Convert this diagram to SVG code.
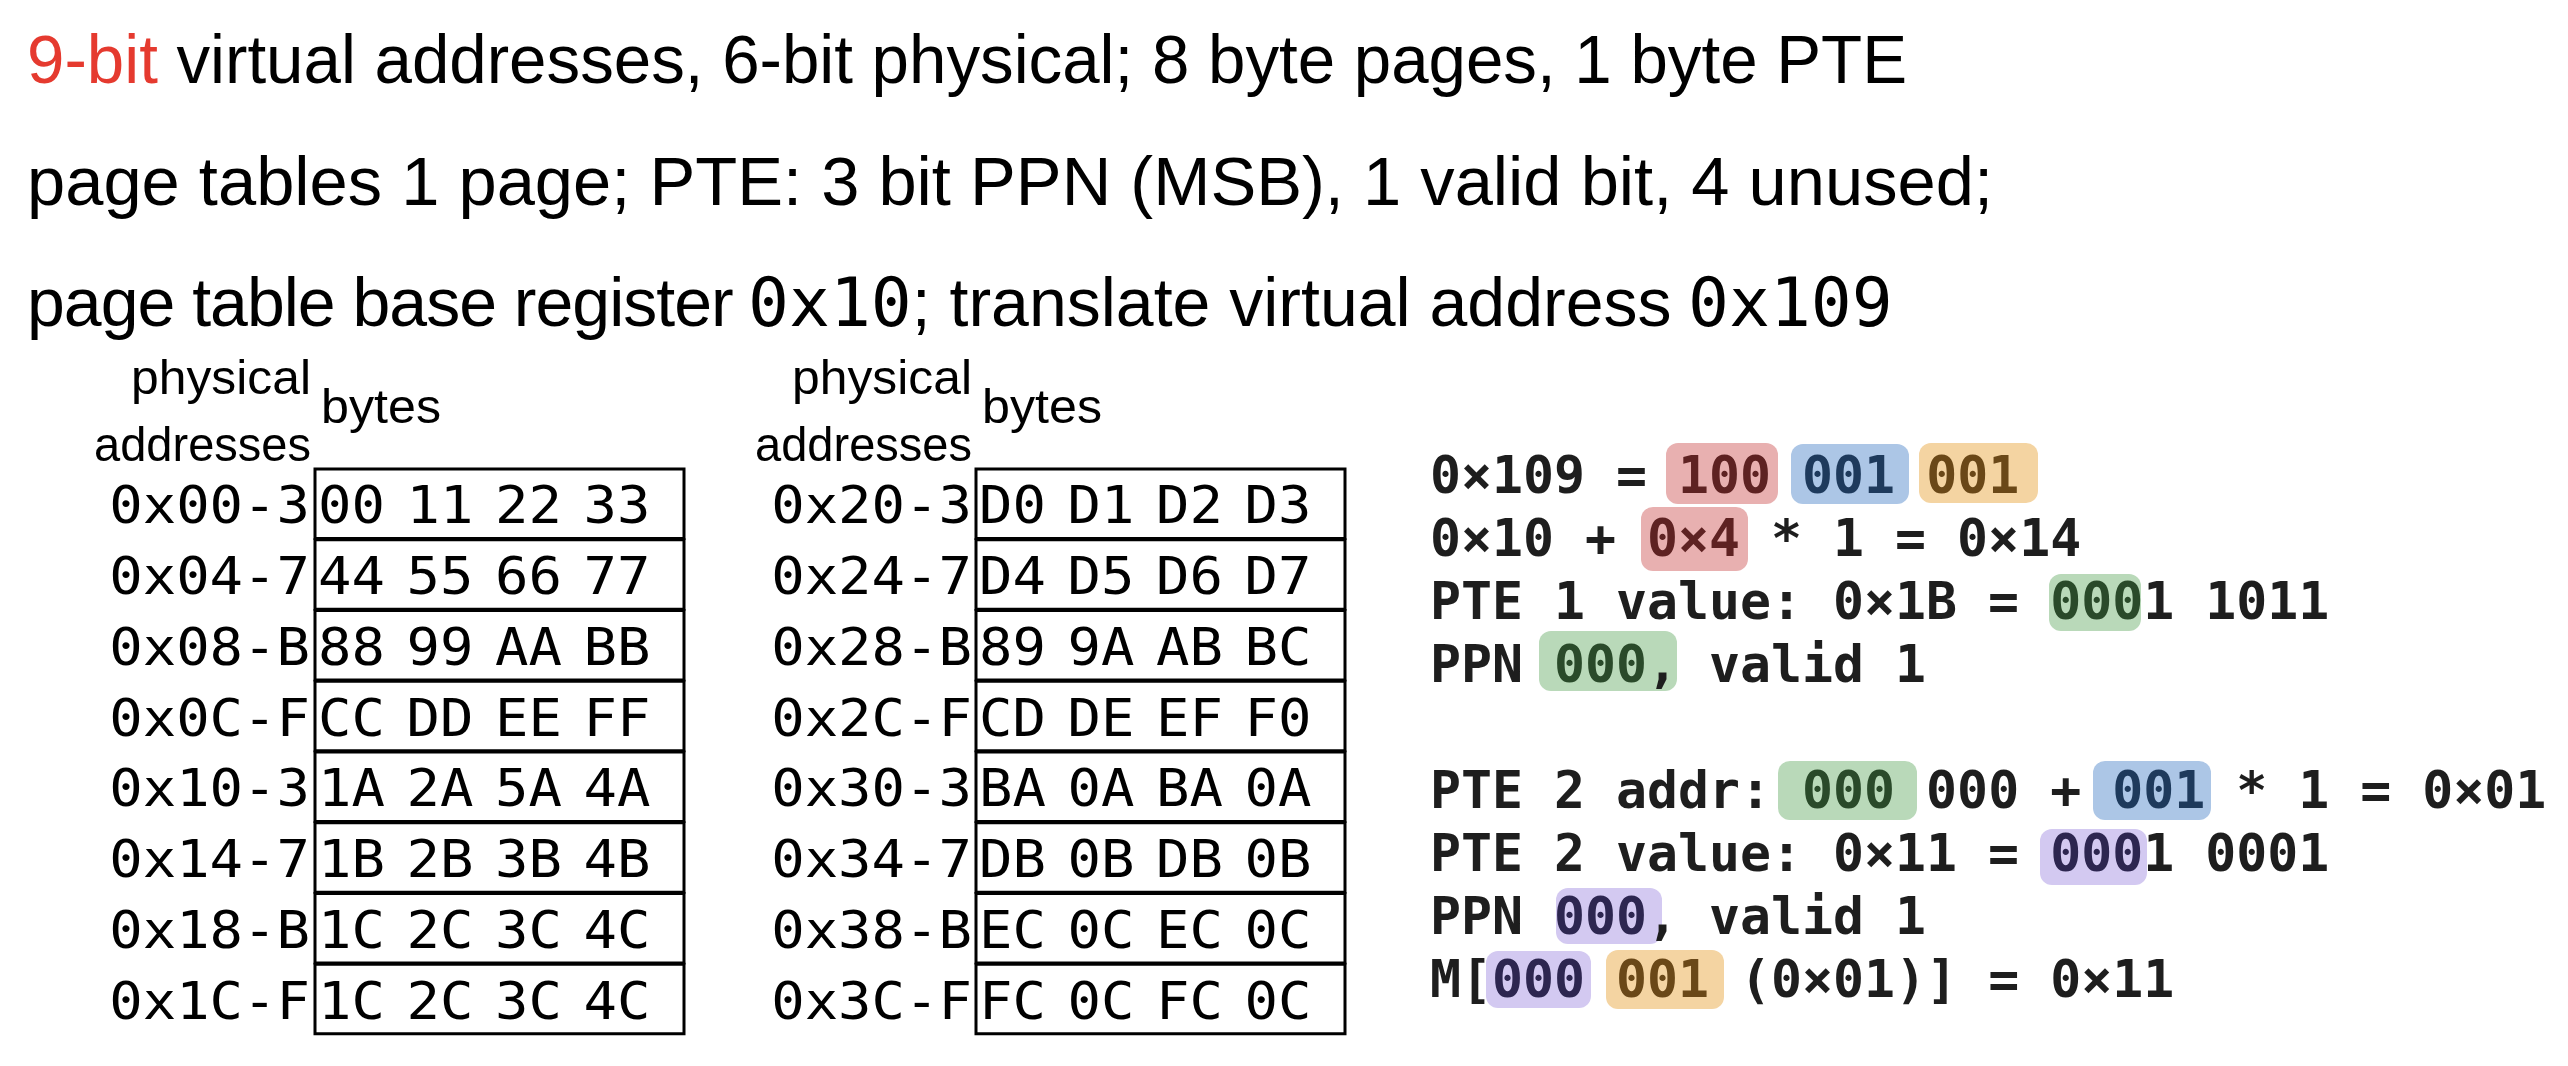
<svg xmlns="http://www.w3.org/2000/svg" width="2568" height="1066" viewBox="0 0 2568 1066">
<style>
.sans{font-family:"Liberation Sans",Arial,sans-serif;fill:#000}
.title{font-size:68px}
.hdr{font-size:49px}
.mono{font-family:"DejaVu Sans Mono","Liberation Mono",monospace}
.cell{font-size:51px;fill:#000}
.row{fill:#fff;stroke:#000;stroke-width:3}
.calc{font-family:"DejaVu Sans Mono","Liberation Mono",monospace;font-size:51.5px;font-weight:bold;fill:#1e1e1e}
.hr{fill:#e8b0b0}.tr{fill:#5e2222}
.hb{fill:#acc6e6}.tb{fill:#1e3a5c}
.ho{fill:#f4d4a2}.to{fill:#6a4818}
.hg{fill:#b9d9b9}.tg{fill:#2a4a2a}
.hp{fill:#d3c9f1}.tp{fill:#2d2650}
</style>
<rect width="2568" height="1066" fill="#fff"/>
<g id="title" class="sans title">
<text x="27" y="83" textLength="1880" lengthAdjust="spacingAndGlyphs"><tspan fill="#e53a2f">9-bit</tspan> virtual addresses, 6-bit physical; 8 byte pages, 1 byte PTE</text>
<text x="27" y="205" textLength="1966" lengthAdjust="spacingAndGlyphs">page tables 1 page; PTE: 3 bit PPN (MSB), 1 valid bit, 4 unused;</text>
<text x="27" y="326"><tspan letter-spacing="-1">page table base register </tspan><tspan x="748" class="mono">0x10</tspan>; translate virtual address <tspan x="1688" class="mono">0x109</tspan></text>
</g>
<g id="connectors"/>
<g id="table1">
<text class="sans hdr" x="311" y="394" text-anchor="end" textLength="180" lengthAdjust="spacingAndGlyphs">physical</text>
<text class="sans hdr" x="311" y="461" text-anchor="end" textLength="217" lengthAdjust="spacingAndGlyphs">addresses</text>
<text class="sans hdr" x="321" y="423" textLength="120" lengthAdjust="spacingAndGlyphs">bytes</text>
<rect class="row" x="315" y="469" width="369" height="69.5"/>
<rect class="row" x="315" y="539.75" width="369" height="69.5"/>
<rect class="row" x="315" y="610.5" width="369" height="69.5"/>
<rect class="row" x="315" y="681.25" width="369" height="69.5"/>
<rect class="row" x="315" y="752" width="369" height="69.5"/>
<rect class="row" x="315" y="822.75" width="369" height="69.5"/>
<rect class="row" x="315" y="893.5" width="369" height="69.5"/>
<rect class="row" x="315" y="964.25" width="369" height="69.5"/>
<g class="mono cell" transform="scale(1.09,1)">
<g text-anchor="end">
<text x="284.4" y="523.5">0x00-3</text>
<text x="284.4" y="594.25">0x04-7</text>
<text x="284.4" y="665">0x08-B</text>
<text x="284.4" y="735.75">0x0C-F</text>
<text x="284.4" y="806.5">0x10-3</text>
<text x="284.4" y="877.25">0x14-7</text>
<text x="284.4" y="948">0x18-B</text>
<text x="284.4" y="1018.75">0x1C-F</text>
</g>
<text y="523.5"><tspan x="291.7">00</tspan> <tspan x="372.9">11</tspan> <tspan x="454.1">22</tspan> <tspan x="535.3">33</tspan></text>
<text y="594.25"><tspan x="291.7">44</tspan> <tspan x="372.9">55</tspan> <tspan x="454.1">66</tspan> <tspan x="535.3">77</tspan></text>
<text y="665"><tspan x="291.7">88</tspan> <tspan x="372.9">99</tspan> <tspan x="454.1">AA</tspan> <tspan x="535.3">BB</tspan></text>
<text y="735.75"><tspan x="291.7">CC</tspan> <tspan x="372.9">DD</tspan> <tspan x="454.1">EE</tspan> <tspan x="535.3">FF</tspan></text>
<text y="806.5"><tspan x="291.7">1A</tspan> <tspan x="372.9">2A</tspan> <tspan x="454.1">5A</tspan> <tspan x="535.3">4A</tspan></text>
<text y="877.25"><tspan x="291.7">1B</tspan> <tspan x="372.9">2B</tspan> <tspan x="454.1">3B</tspan> <tspan x="535.3">4B</tspan></text>
<text y="948"><tspan x="291.7">1C</tspan> <tspan x="372.9">2C</tspan> <tspan x="454.1">3C</tspan> <tspan x="535.3">4C</tspan></text>
<text y="1018.75"><tspan x="291.7">1C</tspan> <tspan x="372.9">2C</tspan> <tspan x="454.1">3C</tspan> <tspan x="535.3">4C</tspan></text>
</g>
</g>
<g id="table2">
<text class="sans hdr" x="972" y="394" text-anchor="end" textLength="180" lengthAdjust="spacingAndGlyphs">physical</text>
<text class="sans hdr" x="972" y="461" text-anchor="end" textLength="217" lengthAdjust="spacingAndGlyphs">addresses</text>
<text class="sans hdr" x="982" y="423" textLength="120" lengthAdjust="spacingAndGlyphs">bytes</text>
<rect class="row" x="976" y="469" width="369" height="69.5"/>
<rect class="row" x="976" y="539.75" width="369" height="69.5"/>
<rect class="row" x="976" y="610.5" width="369" height="69.5"/>
<rect class="row" x="976" y="681.25" width="369" height="69.5"/>
<rect class="row" x="976" y="752" width="369" height="69.5"/>
<rect class="row" x="976" y="822.75" width="369" height="69.5"/>
<rect class="row" x="976" y="893.5" width="369" height="69.5"/>
<rect class="row" x="976" y="964.25" width="369" height="69.5"/>
<g class="mono cell" transform="scale(1.09,1)">
<g text-anchor="end">
<text x="891.7" y="523.5">0x20-3</text>
<text x="891.7" y="594.25">0x24-7</text>
<text x="891.7" y="665">0x28-B</text>
<text x="891.7" y="735.75">0x2C-F</text>
<text x="891.7" y="806.5">0x30-3</text>
<text x="891.7" y="877.25">0x34-7</text>
<text x="891.7" y="948">0x38-B</text>
<text x="891.7" y="1018.75">0x3C-F</text>
</g>
<text y="523.5"><tspan x="898.2">D0</tspan> <tspan x="979.4">D1</tspan> <tspan x="1060.6">D2</tspan> <tspan x="1141.7">D3</tspan></text>
<text y="594.25"><tspan x="898.2">D4</tspan> <tspan x="979.4">D5</tspan> <tspan x="1060.6">D6</tspan> <tspan x="1141.7">D7</tspan></text>
<text y="665"><tspan x="898.2">89</tspan> <tspan x="979.4">9A</tspan> <tspan x="1060.6">AB</tspan> <tspan x="1141.7">BC</tspan></text>
<text y="735.75"><tspan x="898.2">CD</tspan> <tspan x="979.4">DE</tspan> <tspan x="1060.6">EF</tspan> <tspan x="1141.7">F0</tspan></text>
<text y="806.5"><tspan x="898.2">BA</tspan> <tspan x="979.4">0A</tspan> <tspan x="1060.6">BA</tspan> <tspan x="1141.7">0A</tspan></text>
<text y="877.25"><tspan x="898.2">DB</tspan> <tspan x="979.4">0B</tspan> <tspan x="1060.6">DB</tspan> <tspan x="1141.7">0B</tspan></text>
<text y="948"><tspan x="898.2">EC</tspan> <tspan x="979.4">0C</tspan> <tspan x="1060.6">EC</tspan> <tspan x="1141.7">0C</tspan></text>
<text y="1018.75"><tspan x="898.2">FC</tspan> <tspan x="979.4">0C</tspan> <tspan x="1060.6">FC</tspan> <tspan x="1141.7">0C</tspan></text>
</g>
</g>
<g id="calc">
<g id="highlights">
<rect class="hr" x="1666" y="443" width="112" height="61" rx="12"/>
<rect class="hb" x="1791" y="444" width="118" height="60" rx="12"/>
<rect class="ho" x="1919" y="443" width="119" height="60" rx="12"/>
<rect class="hr" x="1641" y="507" width="107" height="64" rx="12"/>
<rect class="hg" x="2049" y="574" width="92" height="57" rx="12"/>
<rect class="hg" x="1539" y="631" width="138" height="60" rx="12"/>
<rect class="hg" x="1778" y="761" width="139" height="59" rx="12"/>
<rect class="hb" x="2093" y="761" width="118" height="59" rx="12"/>
<rect class="hp" x="2040" y="829" width="107" height="56" rx="12"/>
<rect class="hp" x="1556" y="888" width="106" height="56" rx="12"/>
<rect class="hp" x="1486" y="951" width="105" height="57" rx="12"/>
<rect class="ho" x="1606" y="950" width="118" height="59" rx="12"/>
</g>
<text class="calc" x="1430" y="493">0×109 = <tspan class="tr">100</tspan> <tspan class="tb">001</tspan> <tspan class="to">001</tspan></text>
<text class="calc" x="1430" y="556">0×10 + <tspan class="tr">0×4</tspan> * 1 = 0×14</text>
<text class="calc" x="1430" y="619">PTE 1 value: 0×1B = <tspan class="tg">000</tspan>1 1011</text>
<text class="calc" x="1430" y="682">PPN <tspan class="tg">000</tspan>, valid 1</text>
<text class="calc" x="1430" y="808">PTE 2 addr: <tspan class="tg">000</tspan> 000 + <tspan class="tb">001</tspan> * 1 = 0×01</text>
<text class="calc" x="1430" y="871">PTE 2 value: 0×11 = <tspan class="tp">000</tspan>1 0001</text>
<text class="calc" x="1430" y="934">PPN <tspan class="tp">000</tspan>, valid 1</text>
<text class="calc" x="1430" y="997">M[<tspan class="tp">000</tspan> <tspan class="to">001</tspan> (0×01)] = 0×11</text>
</g>
</svg>
